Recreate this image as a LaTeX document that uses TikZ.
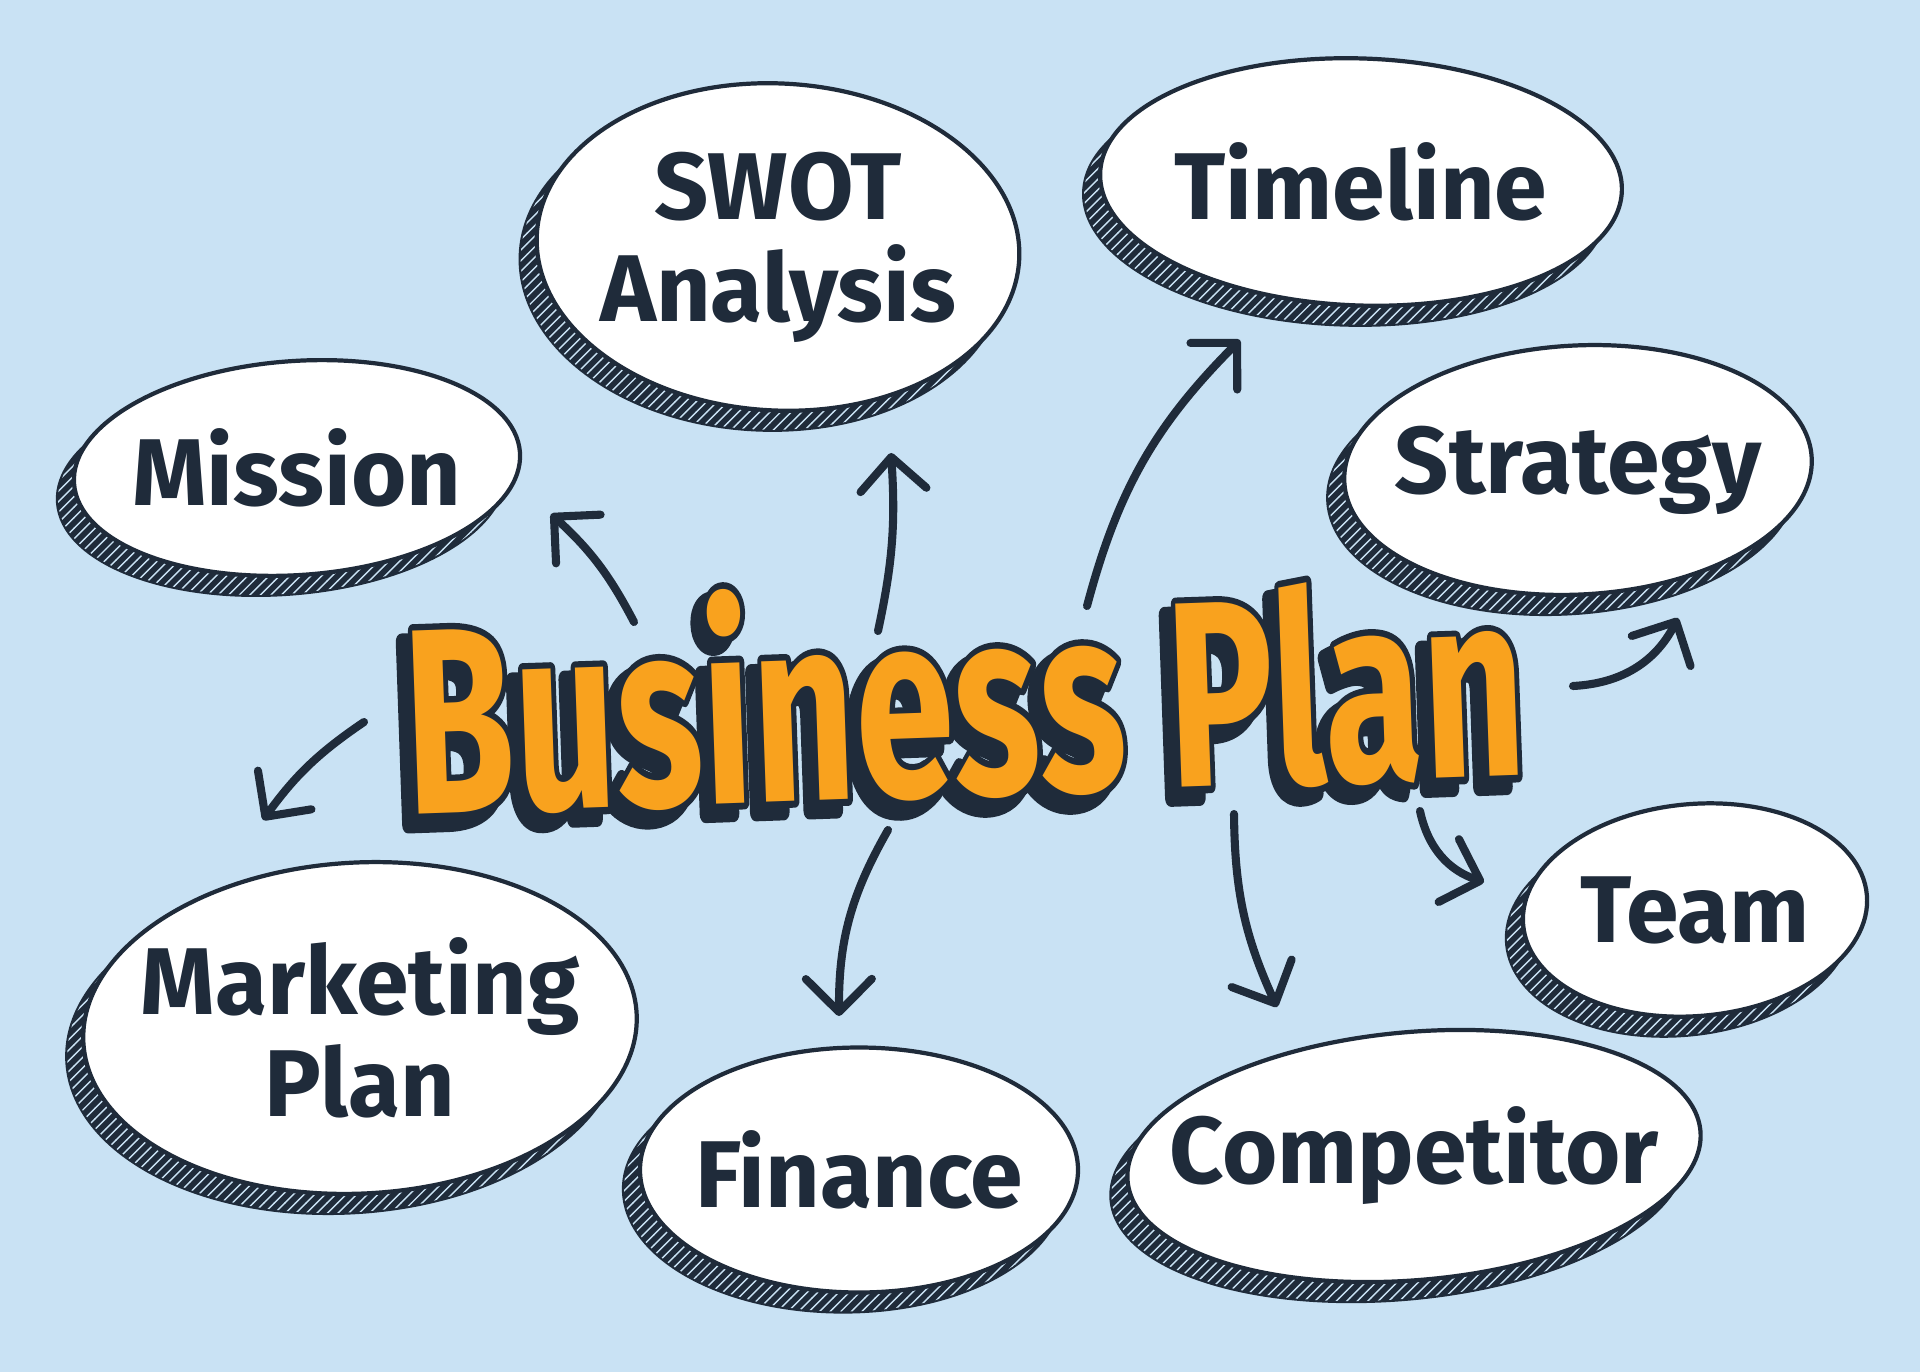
\documentclass[tikz,border=0pt]{standalone}
\usepackage{fontspec}
\setmainfont{Fira Sans}
\usepackage{graphicx}
\usepackage{tikz}
\usetikzlibrary{shapes.geometric,shadows,patterns,arrows.meta}

\definecolor{bg}{HTML}{C9E2F4}
\definecolor{ink}{HTML}{1F2B3A}
\definecolor{amber}{HTML}{F9A21E}
\newcommand\bptext{\scalebox{1.08}[1.6]{Business Plan}}
% letters filled and stroked in ink, #1 = stroke width
\newcommand\inkbp[1]{\special{pdf:literal direct 2 Tr #1 w 1 j 0.122 0.169 0.227 RG 0.122 0.169 0.227 rg}\bptext\special{pdf:literal direct 0 Tr}}

\begin{document}
\begin{tikzpicture}
[bubble/.style={ellipse,draw=ink,line width=1.2pt,fill=white,inner sep=0pt,
   general shadow={fill=ink,draw=ink,shadow xshift=-0.16cm,shadow yshift=-0.19cm,
     postaction={pattern=north east lines,pattern color=bg}}},
 lbl/.style={font=\fontsize{27}{29}\selectfont\bfseries,text=ink,align=center},
 arr/.style={-{Straight Barb[round,length=0.33cm,width=0.66cm]},line width=2.3pt,draw=ink,line cap=round},
 title/.style={font=\fontsize{47}{50}\selectfont\bfseries,rotate=2,inner sep=0pt}]
\fill[bg] (0,0) rectangle (19.2,-13.72);
\useasboundingbox (0,0) rectangle (19.2,-13.72);

% bubbles
\node[bubble,minimum width=4.47cm,minimum height=2.14cm,rotate=4,label={[lbl]center:Mission}] (mission) at (2.97,-4.68) {};
\node[bubble,minimum width=4.83cm,minimum height=3.27cm,rotate=-3,label={[lbl]center:{SWOT\\Analysis}}] (swot) at (7.78,-2.47) {};
\node[bubble,minimum width=5.22cm,minimum height=2.47cm,rotate=-2,label={[lbl]center:Timeline}] (timeline) at (13.61,-1.82) {};
\node[bubble,minimum width=4.68cm,minimum height=2.49cm,rotate=3,label={[lbl]center:Strategy}] (strategy) at (15.78,-4.70) {};
\node[bubble,minimum width=3.45cm,minimum height=2.12cm,rotate=5,label={[lbl]center:Team}] (team) at (16.95,-9.10) {};
\node[bubble,minimum width=5.75cm,minimum height=2.48cm,rotate=5,label={[lbl]center:Competitor}] (competitor) at (14.14,-11.56) {};
\node[bubble,minimum width=4.38cm,minimum height=2.45cm,label={[lbl]center:Finance}] (finance) at (8.59,-11.70) {};
\node[bubble,minimum width=5.54cm,minimum height=3.31cm,rotate=3,label={[lbl]center:{Marketing\\Plan}}] (marketing) at (3.60,-10.28) {};

% title: extruded shadow, outline, letters
\node[title] (bp-shadow) at (9.53,-7.01) {\inkbp{3}};
\node[title] (bp-outline) at (9.64,-6.9) {\inkbp{2.4}};
\node[title,text=amber] (bp) at (9.64,-6.9) {\bptext};

% arrow ends
\coordinate (mission-s) at (6.34,-6.22);   \coordinate (mission-e) at (5.51,-5.14);
\coordinate (swot-s) at (8.78,-6.31);      \coordinate (swot-e) at (8.91,-4.53);
\coordinate (timeline-s) at (10.87,-6.06); \coordinate (timeline-e) at (12.40,-3.40);
\coordinate (strategy-s) at (15.73,-6.86); \coordinate (strategy-e) at (16.78,-6.18);
\coordinate (team-s) at (14.20,-8.11);     \coordinate (team-e) at (14.84,-8.82);
\coordinate (competitor-s) at (12.34,-8.14); \coordinate (competitor-e) at (12.77,-10.07);
\coordinate (finance-s) at (8.88,-8.30);   \coordinate (finance-e) at (8.39,-10.16);
\coordinate (marketing-s) at (3.64,-7.22); \coordinate (marketing-e) at (2.63,-8.20);

\draw[arr] (mission-s) to[bend right=10] (mission-e);
\draw[arr] (swot-s) to[bend right=8] (swot-e);
\draw[arr] (timeline-s) to[bend left=15] (timeline-e);
\draw[arr] (strategy-s) to[bend right=30] (strategy-e);
\draw[arr] (team-s) to[bend right=30] (team-e);
\draw[arr] (competitor-s) to[bend right=12] (competitor-e);
\draw[arr] (finance-s) to[bend right=15] (finance-e);
\draw[arr] (marketing-s) to[bend right=10] (marketing-e);
\end{tikzpicture}
\end{document}
